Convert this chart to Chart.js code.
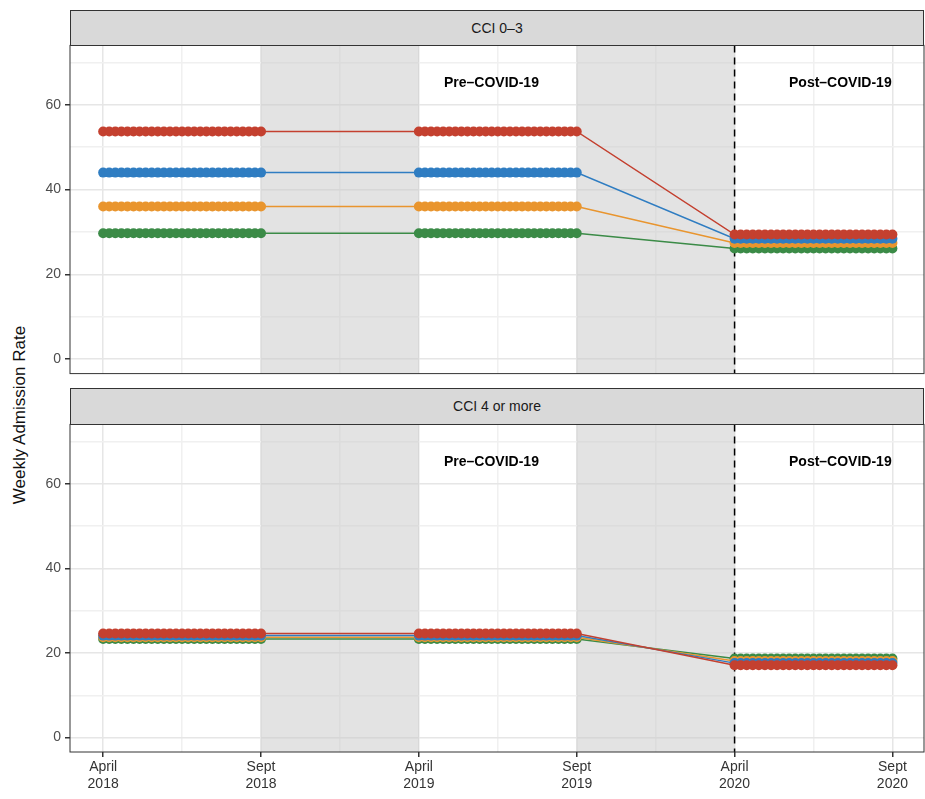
<!DOCTYPE html>
<html><head><meta charset="utf-8">
<script src="https://cdn.jsdelivr.net/npm/chart.js@4.4.0/dist/chart.umd.min.js"></script>
<style>
body{margin:0;background:#fff;font-family:"Liberation Sans",Arial,sans-serif;}
.strip{position:absolute;z-index:2;left:70px;width:854px;background:#d9d9d9;border:1px solid #333;font-size:14px;color:#1a1a1a;text-align:center;box-sizing:border-box;}
.box{position:absolute;z-index:1;}
#ytitle{position:absolute;left:-70px;top:405px;width:180px;transform:rotate(-90deg);font-size:17px;text-align:center;color:#111;}
</style></head><body>
<div class="box" style="left:0;top:33px;width:925px;height:353px"><canvas id="c1"></canvas></div>
<div class="box" style="left:0;top:412px;width:925px;height:387px"><canvas id="c2"></canvas></div>
<div class="strip" style="top:10px;height:36px;line-height:34px">CCI 0–3</div>
<div class="strip" style="top:388px;height:37px;line-height:35px">CCI 4 or more</div>
<div id="ytitle">Weekly Admission Rate</div>
<script>
const periodLabels=[["April","2018"],["Sept","2018"],["April","2019"],["Sept","2019"],["April","2020"],["Sept","2020"]];
const seriesNames=["Red","Blue","Orange","Green"];
const colors=["#C4402F","#2F7DC2","#E9952E","#3B8B47"];
const weeksPerPeriod=26;
// [pre 2018, pre 2019, post 2020]
const cci03=[[53.7,53.7,29.4],[44,44,28.4],[36,36,27.4],[29.7,29.7,26.1]];
const cci4=[[24.6,24.6,17.1],[24.1,24.1,17.6],[23.7,23.7,18.1],[23.3,23.3,18.7]];
const periodStarts=[0,2,4];
const shaded=[[1,2],[3,4]];
const covidLine=4;

function build(vals){
  return vals.map((v,i)=>{
    const data=[];
    periodStarts.forEach((s,p)=>{for(let w=0;w<=weeksPerPeriod;w++)data.push({x:s+w/weeksPerPeriod,y:v[p]});});
    return {label:seriesNames[i],data,borderColor:colors[i],backgroundColor:colors[i],borderWidth:1.5,pointRadius:5,pointBorderWidth:0,showLine:true,order:i};
  });
}
const bg={id:'bg',beforeDatasetsDraw(c){
  const {ctx,chartArea:a,scales:{x}}=c;ctx.save();ctx.fillStyle='rgba(200,200,200,0.5)';
  shaded.forEach(([s,e])=>ctx.fillRect(x.getPixelForValue(s),a.top,x.getPixelForValue(e)-x.getPixelForValue(s),a.bottom-a.top));
  const px=x.getPixelForValue(covidLine);ctx.strokeStyle='#000';ctx.lineWidth=1.5;ctx.setLineDash([7,5]);
  ctx.beginPath();ctx.moveTo(px,a.top);ctx.lineTo(px,a.bottom);ctx.stroke();ctx.setLineDash([]);
  ctx.fillStyle='#000';ctx.font='bold 14px "Liberation Sans",Arial';ctx.textAlign='center';
  ctx.fillText('Pre–COVID-19',x.getPixelForValue(2.46),a.top+42);
  ctx.fillText('Post–COVID-19',x.getPixelForValue(4.67),a.top+42);
  ctx.restore();},
  afterDraw(c){const {ctx,chartArea:a}=c;ctx.save();ctx.strokeStyle='#333';ctx.lineWidth=1;ctx.strokeRect(a.left,a.top,a.right-a.left,a.bottom-a.top);ctx.restore();}};
function opts(showX){return {responsive:true,maintainAspectRatio:false,animation:false,
  layout:{autoPadding:false,padding:{right:1,top:0,bottom:0,left:0}},
  plugins:{legend:{display:false},tooltip:{enabled:false}},
  scales:{
   x:{type:'linear',min:-0.21,max:5.2,afterFit(s){s.height=showX?47:0;},
      afterBuildTicks(s){const t=[];for(let v=0;v<=5;v+=0.5)t.push({value:v});s.ticks=t;},
      grid:{color:ctx=>Number.isInteger(ctx.tick&&ctx.tick.value)?'#e6e6e6':'#f0f0f0',lineWidth:1.5,drawTicks:showX,
        tickColor:ctx=>Number.isInteger(ctx.tick&&ctx.tick.value)?'#333':'rgba(0,0,0,0)',tickLength:5},
      border:{display:false},
      ticks:{display:showX,autoSkip:false,maxRotation:0,color:'#333',font:{size:14,family:'"Liberation Sans",Arial'},padding:2,
        callback:v=>Number.isInteger(v)?periodLabels[v]:''}},
   y:{min:-3.4,max:74,afterFit(s){s.width=70;},
      afterBuildTicks(s){const t=[];for(let v=0;v<=70;v+=10)t.push({value:v});s.ticks=t;},
      grid:{color:ctx=>(ctx.tick&&ctx.tick.value%20===0)?'#e6e6e6':'#f0f0f0',lineWidth:1.5,
        tickColor:ctx=>(ctx.tick&&ctx.tick.value%20===0)?'#333':'rgba(0,0,0,0)',tickLength:5},
      border:{display:false},
      ticks:{color:'#4d4d4d',font:{size:14,family:'"Liberation Sans",Arial'},padding:4,callback:v=>v%20===0?v:''}}
  }};}
new Chart(document.getElementById('c1'),{type:'scatter',data:{datasets:build(cci03)},options:opts(false),plugins:[bg]});
new Chart(document.getElementById('c2'),{type:'scatter',data:{datasets:build(cci4)},options:opts(true),plugins:[bg]});
</script></body></html>
